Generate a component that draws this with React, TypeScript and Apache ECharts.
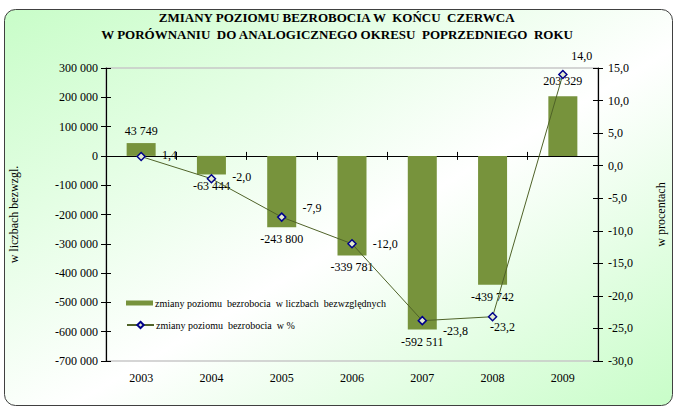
import React, { useEffect, useRef } from "react";
import * as echarts from "echarts";

const years = ["2003", "2004", "2005", "2006", "2007", "2008", "2009"];
const absChange = [43749, -63444, -243800, -339781, -592511, -439742, 203329];
const pctChange = [1.4, -2.0, -7.9, -12.0, -23.8, -23.2, 14.0];
const titleLines = [
  "ZMIANY POZIOMU BEZROBOCIA W  KOŃCU  CZERWCA",
  "W PORÓWNANIU  DO ANALOGICZNEGO OKRESU  POPRZEDNIEGO  ROKU",
];
const barName = "zmiany poziomu  bezrobocia  w liczbach  bezwzględnych";
const lineName = "zmiany poziomu  bezrobocia  w %";
const leftAxisName = "w liczbach bezwzgl.";
const rightAxisName = "w procentach";

const FONT = "Liberation Serif";

const fmtThousands = (v: number) => {
  const s = Math.abs(Math.round(v)).toString().replace(/\B(?=(\d{3})+(?!\d))/g, " ");
  return (v < 0 ? "-" : "") + s;
};
const fmtPct = (v: number) => v.toFixed(1).replace(".", ",");

const lineLabelCfg = [
  { position: "right", distance: 16, offset: [0, -2] },
  { position: "right", distance: 16, offset: [0, -2] },
  { position: "right", distance: 16, offset: [0, -9] },
  { position: "right", distance: 16, offset: [0, 0] },
  { position: "right", distance: 16, offset: [0, 10] },
  { position: "bottom", distance: 0, offset: [10, 0] },
  { position: "top", distance: 8, offset: [19, 0] },
];

export default function App() {
  const ref = useRef<HTMLDivElement>(null);
  useEffect(() => {
    document.body.style.margin = "0";
    const chart = echarts.init(ref.current!, undefined, { renderer: "svg" });
    const textStyle = { fontFamily: FONT, color: "#000" };
    const hiddenCat = {
      type: "category",
      data: years,
      position: "bottom",
      axisLabel: { show: false },
      splitLine: { show: false },
    };
    const option: any = {
      animation: false,
      textStyle,
      graphic: {
        elements: [
          {
            type: "rect",
            z: -100,
            shape: { x: 4.5, y: 9.5, width: 668, height: 396, r: 11 },
            style: {
              fill: new echarts.graphic.LinearGradient(0, 0, 1, 1, [
                { offset: 0, color: "#c8fdc8" },
                { offset: 0.55, color: "#ffffff" },
                { offset: 1, color: "#c8fdc8" },
              ]),
              stroke: "#404040",
              lineWidth: 1,
            },
          },
          {
            type: "text",
            left: "center",
            top: 11,
            style: { text: titleLines[0], font: `bold 13px ${FONT}`, fill: "#000" },
          },
          {
            type: "text",
            left: "center",
            top: 28,
            style: { text: titleLines[1], font: `bold 13px ${FONT}`, fill: "#000" },
          },
        ],
      },
      grid: {
        left: 96,
        right: 75,
        top: 68,
        bottom: 45,
        show: true,
        backgroundColor: "transparent",
        borderColor: "#c8c8c8",
        borderWidth: 1.5,
      },
      legend: [
        {
          orient: "vertical",
          left: 121,
          top: 293,
          itemWidth: 27,
          itemHeight: 5,
          data: [{ name: barName, icon: "rect" }],
          textStyle: { fontFamily: FONT, fontSize: 10, color: "#000", padding: [0, 0, 0, -3] },
        },
        {
          orient: "vertical",
          left: 121,
          top: 315,
          itemWidth: 27,
          itemHeight: 8,
          data: [{ name: lineName }],
          textStyle: { fontFamily: FONT, fontSize: 10, color: "#000", padding: [0, 0, 0, -3] },
        },
      ],
      xAxis: [
        {
          type: "category",
          data: years,
          axisLine: { show: false },
          axisTick: { show: false },
          axisLabel: { fontFamily: FONT, fontSize: 12, color: "#000", margin: 11 },
        },
        {
          ...hiddenCat,
          axisLine: { show: true, onZero: true, onZeroAxisIndex: 0, lineStyle: { color: "#000", width: 1.2 } },
          axisTick: { show: true, length: 4, lineStyle: { color: "#000" } },
        },
        {
          ...hiddenCat,
          axisLine: { show: false, onZero: true, onZeroAxisIndex: 0 },
          axisTick: { show: true, inside: true, length: 4, lineStyle: { color: "#000" } },
        },
      ],
      yAxis: [
        {
          type: "value",
          position: "left",
          min: -700000,
          max: 300000,
          interval: 100000,
          name: leftAxisName,
          nameLocation: "middle",
          nameRotate: 90,
          nameGap: 86,
          nameTextStyle: { fontFamily: FONT, fontSize: 12, color: "#000" },
          axisLine: { show: true, lineStyle: { color: "#000", width: 1.2 } },
          axisTick: { show: true, length: 5, lineStyle: { color: "#000" } },
          axisLabel: {
            fontFamily: FONT,
            fontSize: 12,
            color: "#000",
            margin: 8,
            formatter: (v: number) => fmtThousands(v),
          },
          splitLine: { show: false },
        },
        {
          type: "value",
          position: "right",
          min: -30,
          max: 15,
          interval: 5,
          name: rightAxisName,
          nameLocation: "middle",
          nameRotate: 90,
          nameGap: 57,
          nameTextStyle: { fontFamily: FONT, fontSize: 12, color: "#000" },
          axisLine: { show: true, lineStyle: { color: "#000", width: 1.2 } },
          axisTick: { show: true, length: 5, lineStyle: { color: "#000" } },
          axisLabel: {
            fontFamily: FONT,
            fontSize: 12,
            color: "#000",
            margin: 10,
            formatter: (v: number) => fmtPct(v),
          },
          splitLine: { show: false },
        },
        {
          type: "value",
          position: "left",
          min: -700000,
          max: 300000,
          interval: 100000,
          axisLine: { show: false },
          axisTick: { show: true, inside: true, length: 5, lineStyle: { color: "#000" } },
          axisLabel: { show: false },
          splitLine: { show: false },
        },
        {
          type: "value",
          position: "right",
          min: -30,
          max: 15,
          interval: 5,
          axisLine: { show: false },
          axisTick: { show: true, inside: true, length: 5, lineStyle: { color: "#000" } },
          axisLabel: { show: false },
          splitLine: { show: false },
        },
      ],
      series: [
        {
          name: barName,
          type: "bar",
          xAxisIndex: 0,
          yAxisIndex: 0,
          barWidth: 29,
          itemStyle: { color: "#77933c" },
          data: absChange.map((v) => ({
            value: v,
            label: { position: v >= 0 ? "top" : "bottom", distance: v >= 200000 ? 9 : 6 },
          })),
          label: {
            show: true,
            fontFamily: FONT,
            fontSize: 12,
            color: "#000",
            formatter: (p: any) => fmtThousands(p.value),
          },
          z: 2,
        },
        {
          name: lineName,
          type: "line",
          xAxisIndex: 0,
          yAxisIndex: 1,
          symbol: "diamond",
          symbolSize: 8,
          lineStyle: { color: "#4f6228", width: 1 },
          itemStyle: { color: "#e4ecd0", borderColor: "#00008b", borderWidth: 1.5 },
          data: pctChange.map((v, i) => ({
            value: v,
            label: lineLabelCfg[i],
          })),
          label: {
            show: true,
            fontFamily: FONT,
            fontSize: 12,
            color: "#000",
            formatter: (p: any) => fmtPct(p.value),
          },
          z: 3,
        },
      ],
    };
    chart.setOption(option);
    return () => chart.dispose();
  }, []);
  return (
    <div
      ref={ref}
      style={{ position: "absolute", left: 0, top: 0, width: 675, height: 406 }}
    />
  );
}
